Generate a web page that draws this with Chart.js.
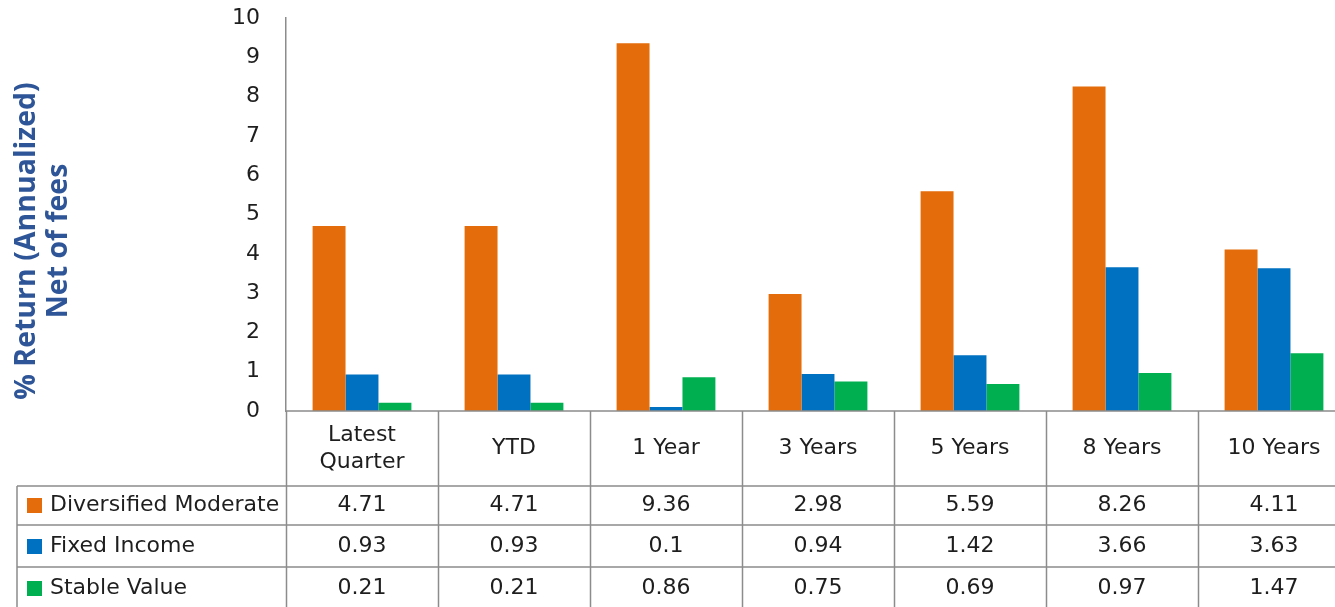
<!DOCTYPE html>
<html>
<head>
<meta charset="utf-8">
<script src="https://cdn.jsdelivr.net/npm/chart.js@4.4.1/dist/chart.umd.min.js"></script>
<style>
    html, body { margin: 0; padding: 0; background: #fff; overflow: hidden; }
    #wrap { position: absolute; left: 0; top: 0; width: 1352px; height: 607px; }
</style>
</head>
<body>
<div id="wrap"><canvas id="returnsChart"></canvas></div>
<script>
// Chart data
const categories = [['Latest', 'Quarter'], 'YTD', '1 Year', '3 Years', '5 Years', '8 Years', '10 Years'];
const seriesNames = ['Diversified Moderate', 'Fixed Income', 'Stable Value'];
const diversifiedModerate = [4.71, 4.71, 9.36, 2.98, 5.59, 8.26, 4.11];
const fixedIncome = [0.93, 0.93, 0.1, 0.94, 1.42, 3.66, 3.63];
const stableValue = [0.21, 0.21, 0.86, 0.75, 0.69, 0.97, 1.47];
const yTicks = [0, 1, 2, 3, 4, 5, 6, 7, 8, 9, 10];
const yTitle = ['% Return (Annualized)', 'Net of fees'];

const seriesColors = ['#E46C0A', '#0070C0', '#00B050'];
const seriesValues = [diversifiedModerate, fixedIncome, stableValue];

const LINE = '#8c8c8c';
const TEXT = '#1e1e1e';
const TABLE_FONT = '22px "DejaVu Sans"';

// Draws the y title and the data table under the plot
const tablePlugin = {
    id: 'dataTable',
    afterDraw(chart) {
        const ctx = chart.ctx;
        const area = chart.chartArea;
        const x = chart.scales.x;
        const W = chart.width, H = chart.height;
        const colW = x.getPixelForValue(1) - x.getPixelForValue(0);
        const rowLines = [486, 525, 567];
        const tableLeft = 17;

        ctx.save();
        ctx.strokeStyle = LINE;
        ctx.lineWidth = 1.5;
        ctx.beginPath();
        // axis line
        ctx.moveTo(area.left, area.bottom);
        ctx.lineTo(W, area.bottom);
        // column dividers
        for (let i = 0; i <= categories.length; i++) {
            const bx = Math.round(x.getPixelForValue(i) - colW / 2) + 0.5;
            ctx.moveTo(bx, area.bottom);
            ctx.lineTo(bx, H);
        }
        // row lines
        rowLines.forEach(ry => {
            ctx.moveTo(tableLeft, ry);
            ctx.lineTo(W, ry);
        });
        ctx.moveTo(tableLeft, rowLines[0]);
        ctx.lineTo(tableLeft, H);
        ctx.stroke();

        // header labels
        ctx.fillStyle = TEXT;
        ctx.font = TABLE_FONT;
        ctx.textAlign = 'center';
        ctx.textBaseline = 'middle';
        const headMid = (area.bottom + rowLines[0]) / 2;
        categories.forEach((c, i) => {
            const cx = x.getPixelForValue(i);
            if (Array.isArray(c)) {
                ctx.fillText(c[0], cx, headMid - 13);
                ctx.fillText(c[1], cx, headMid + 14);
            } else {
                ctx.fillText(c, cx, headMid);
            }
        });

        // rows
        const rowMids = [(rowLines[0] + rowLines[1]) / 2, (rowLines[1] + rowLines[2]) / 2, rowLines[2] + 21];
        seriesValues.forEach((vals, r) => {
            const my = rowMids[r];
            vals.forEach((v, i) => {
                ctx.fillText(String(v), x.getPixelForValue(i), my);
            });
            ctx.fillStyle = seriesColors[r];
            ctx.fillRect(27, Math.round(my - 7.5), 15, 15);
            ctx.fillStyle = TEXT;
            ctx.textAlign = 'left';
            ctx.fillText(seriesNames[r], 50, my);
            ctx.textAlign = 'center';
        });

        // y title
        ctx.translate(0, 241);
        ctx.rotate(-Math.PI / 2);
        ctx.fillStyle = '#2E5597';
        ctx.font = 'bold 28.5px "Open Sans"';
        ctx.fillText(yTitle[0], 0, 27);
        ctx.fillText(yTitle[1], 0, 59);
        ctx.restore();
    }
};

function initChart() {
    const ctx = document.getElementById('returnsChart').getContext('2d');
    new Chart(ctx, {
        type: 'bar',
        data: {
            labels: categories,
            datasets: seriesNames.map((name, i) => ({
                label: name,
                data: seriesValues[i],
                backgroundColor: seriesColors[i],
                borderWidth: 0,
                categoryPercentage: 0.65,
                barPercentage: 1.0
            }))
        },
        options: {
            responsive: true,
            maintainAspectRatio: false,
            animation: false,
            layout: { padding: { left: 0, top: 18, right: 2, bottom: 196 } },
            plugins: {
                legend: { display: false },
                tooltip: { enabled: false }
            },
            scales: {
                x: { display: false },
                y: {
                    min: 0,
                    max: 10,
                    afterBuildTicks: (scale) => { scale.ticks = yTicks.map(v => ({ value: v })); },
                    afterFit: (scale) => {
                        scale.width = 286;
                        scale.paddingTop = 0;
                        scale.paddingBottom = 0;
                    },
                    grid: { display: false, drawTicks: false },
                    border: { display: true, color: LINE, width: 1.5 },
                    ticks: {
                        padding: 26,
                        color: TEXT,
                        font: { family: 'DejaVu Sans', size: 22 }
                    }
                }
            }
        },
        plugins: [tablePlugin]
    });
}

document.addEventListener('DOMContentLoaded', initChart);
</script>
</body>
</html>
